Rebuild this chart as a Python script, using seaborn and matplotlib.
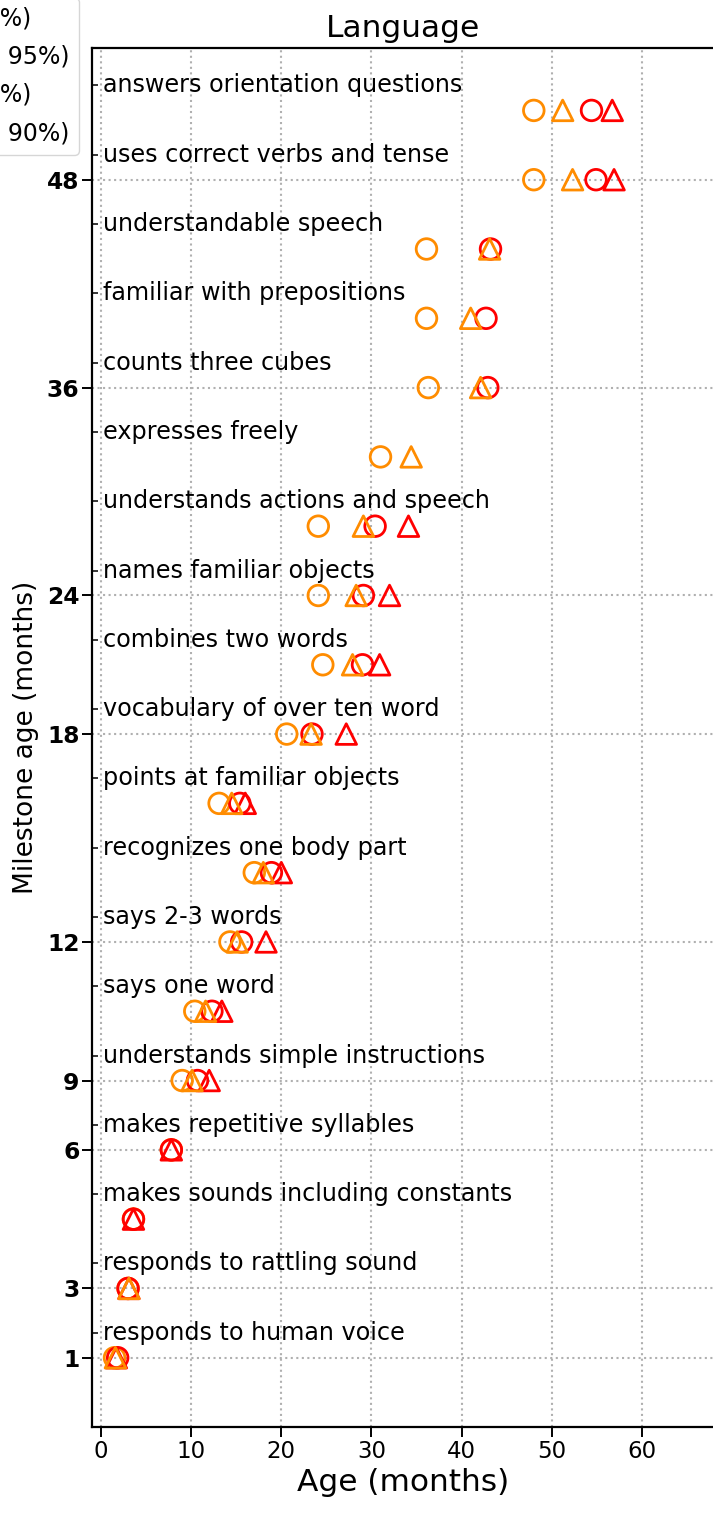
import numpy as np
import matplotlib
matplotlib.use("Agg")
import matplotlib.pyplot as plt
import seaborn as sns

nan = np.nan

# milestones, bottom row first
milestones = [
    "responds to human voice",
    "responds to rattling sound",
    "makes sounds including constants",
    "makes repetitive syllables",
    "understands simple instructions",
    "says one word",
    "says 2-3 words",
    "recognizes one body part",
    "points at familiar objects",
    "vocabulary of over ten word",
    "combines two words",
    "names familiar objects",
    "understands actions and speech",
    "expresses freely",
    "counts three cubes",
    "familiar with prepositions",
    "understandable speech",
    "uses correct verbs and tense",
    "answers orientation questions",
]

# rows that carry a milestone-age tick
tick_rows = [0, 1, 3, 4, 6, 9, 11, 14, 17]
tick_ages = [1, 3, 6, 9, 12, 18, 24, 36, 48]

# ages (months)
ref_50 = [1.5, 3.0, 3.6, 7.8, 9.0, 10.4, 14.3, 17.0, 13.1, 20.6, 24.6, 24.1, 24.1, 31.0, 36.3, 36.1, 36.1, 48.0, 48.0]
ref_95 = [1.6, 3.1, nan, nan, 10.1, 11.6, 15.1, 18.0, 14.5, 23.3, 27.9, 28.3, 29.1, 34.4, 42.1, 41.0, 43.1, 52.3, 51.2]
smp_50 = [1.85, 3.0, 3.6, 7.8, 10.7, 12.3, 15.6, 18.9, 15.4, 23.4, 29.0, 29.1, 30.4, nan, 42.9, 42.7, 43.2, 54.9, 54.4]
smp_90 = [1.7, 3.1, 3.6, 7.8, 12.0, 13.4, 18.3, 20.0, 16.0, 27.2, 30.9, 32.0, 34.1, nan, nan, nan, nan, 56.9, 56.7]

labels = ["Study A (50%)", "Study A (PR 95%)", "Study B (50%)", "Study B (PR 90%)"]
values = [ref_50, ref_95, smp_50, smp_90]
colors = ["darkorange", "darkorange", "red", "red"]
markers = ["o", "^", "o", "^"]

sns.set_theme(style="white")
plt.rcParams['font.family'] = ['DejaVu Sans']
plt.rcParams['text.color'] = 'black'
plt.rcParams['axes.labelcolor'] = 'black'

fig = plt.figure(figsize=(7.13, 15.16), dpi=100)
ax = fig.add_axes([0.129, 0.0587, 0.8726, 0.9096])

rows = np.arange(len(milestones))

# draw order: orange circle, red circle, red triangle, orange triangle
for k in [0, 2, 3, 1]:
    sns.scatterplot(x=values[k], y=rows, marker=markers[k], s=220,
                    color=colors[k], facecolors="none", edgecolor=colors[k],
                    linewidth=2, label=labels[k], ax=ax, zorder=3)
if ax.get_legend() is not None:
    ax.get_legend().remove()

for i, name in enumerate(milestones):
    ax.text(0.25, i + 0.36, name, fontsize=17.2, va="center", ha="left", color="black")

ax.set_xlim(-1, 68)
ax.set_ylim(-1, 18.9)
ax.set_xticks(range(0, 61, 10))
ax.set_xticklabels([str(v) for v in range(0, 61, 10)], fontsize=16.5)
ax.set_yticks(tick_rows)
ax.set_yticklabels([str(a) for a in tick_ages], fontsize=16.8, fontweight="bold")
ax.set_yticks(rows + 0.36, minor=True)

ax.tick_params(axis="both", which="major", direction="out", length=7, width=1.4,
               pad=2, left=True, bottom=True, colors="black")
ax.tick_params(axis="y", which="minor", direction="in", length=4.5, width=1.3, left=True)

ax.grid(True, which="major", linestyle=":", color="#b0b0b0", linewidth=1.5)
ax.set_axisbelow(True)
for sp in ax.spines.values():
    sp.set_color("black")
    sp.set_linewidth(1.6)

ax.set_title("Language", fontsize=22.5, pad=8, color="black")
ax.set_xlabel("Age (months)", fontsize=22.5, labelpad=4)
ax.set_ylabel("Milestone age (months)", fontsize=19, labelpad=6)

handles, labs = ax.get_legend_handles_labels()
order = [labs.index(l) for l in labels]
fig.legend([handles[i] for i in order], [labs[i] for i in order],
           loc="lower right", bbox_to_anchor=(79 / 713, 1 - 155 / 1516),
           bbox_transform=fig.transFigure, borderaxespad=0, fontsize=17,
           frameon=True, edgecolor="#cccccc", fancybox=True, labelspacing=0.6)

fig.savefig("out.png", dpi=100)
